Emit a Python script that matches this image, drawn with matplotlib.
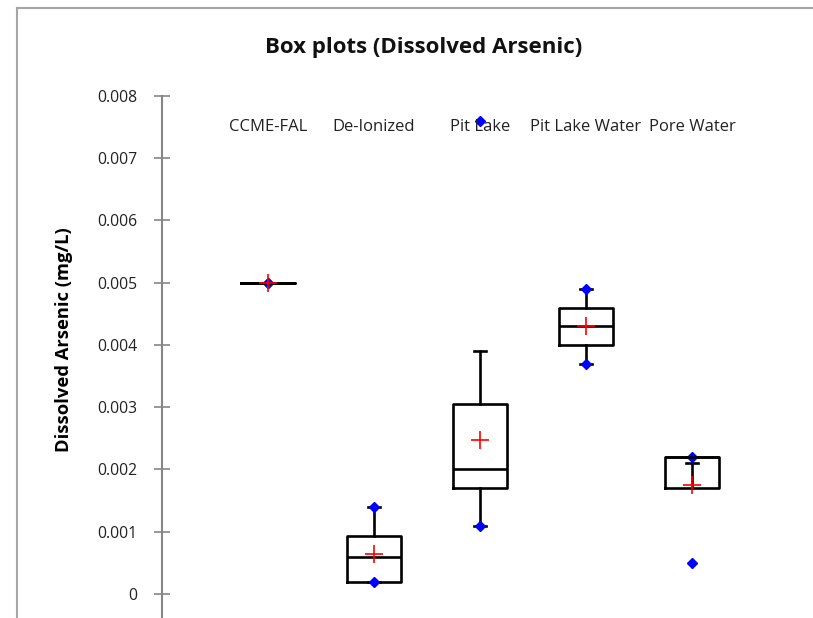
import matplotlib
matplotlib.use("Agg")
import matplotlib.pyplot as plt
from matplotlib.lines import Line2D

# values (mg/L)
groups = ["CCME-FAL", "De-Ionized", "Pit Lake", "Pit Lake Water", "Pore Water"]
q1 = [0.0050, 0.0002, 0.00171, 0.0040, 0.0017]
median = [0.0050, 0.0006, 0.0020, 0.0043, 0.0022]
q3 = [0.0050, 0.00093, 0.00305, 0.0046, 0.0022]
mean = [0.0050, 0.00064, 0.00248, 0.0043, 0.00175]
whisker_lo = [0.0050, 0.0002, 0.0011, 0.0037, 0.0021]
whisker_hi = [0.0050, 0.0014, 0.0039, 0.0049, 0.0022]
minimum = [0.0050, 0.0002, 0.0011, 0.0037, 0.0005]
maximum = [0.0050, 0.0014, 0.0076, 0.0049, 0.0022]
yticks = [0, 0.001, 0.002, 0.003, 0.004, 0.005, 0.006, 0.007, 0.008]

plt.rcParams['font.family'] = ['Open Sans', 'DejaVu Sans']

W, H = 813, 618
fig = plt.figure(figsize=(W / 100, H / 100), dpi=100)

# chart frame (excel style), only top and left edge visible
fig.add_artist(Line2D([17 / W, 17 / W], [-0.1, 1 - 8 / H], color="#a6a6a6", lw=1.5))
fig.add_artist(Line2D([17 / W, 1.1], [1 - 8 / H, 1 - 8 / H], color="#a6a6a6", lw=1.5))

ax = fig.add_axes([162 / W, 0, (798 - 162) / W, 1 - 96 / H])

stats = []
for i, g in enumerate(groups):
    stats.append(dict(label=g, q1=q1[i], med=median[i], q3=q3[i], mean=mean[i],
                      whislo=whisker_lo[i], whishi=whisker_hi[i],
                      fliers=[minimum[i], maximum[i]]))

positions = list(range(1, len(groups) + 1))
black = dict(color="black", linewidth=1.9)
ax.bxp(stats, positions=positions, widths=0.51, showmeans=True, showfliers=True,
       boxprops=black, medianprops=black, whiskerprops=black,
       capprops=black, capwidths=0.12,
       flierprops=dict(marker="D", markerfacecolor="blue", markeredgecolor="blue",
                       markersize=5.5, linestyle="none"),
       meanprops=dict(marker="+", markeredgecolor="red", markersize=13,
                      markeredgewidth=1.2))

ax.set_xlim(0, 6)
ax.set_ylim(-0.000386, 0.008)
ax.set_yticks(yticks)
ax.set_yticklabels(["0" if v == 0 else f"{v:.3f}" for v in yticks])
ax.set_xticks([])

for s in ["top", "right", "bottom"]:
    ax.spines[s].set_visible(False)
ax.spines["left"].set_color("#868686")
ax.spines["left"].set_linewidth(1.5)
ax.spines["left"].set_bounds(-0.001, 0.008)
ax.tick_params(axis="y", direction="inout", length=11, width=1.2, color="#868686",
               labelsize=11.3, pad=12, labelcolor="#222222")

# category names across the top of the plot
for p, g in zip(positions, groups):
    ax.text(p, 0.0075, g, ha="center", va="center", fontsize=12, color="#222222")

ax.set_ylabel("Dissolved Arsenic (mg/L)", fontsize=13.2, fontweight="bold")
ax.yaxis.set_label_coords(-0.14, 0.533)

fig.text(424 / W, 1 - 48 / H, "Box plots (Dissolved Arsenic)", ha="center", va="center",
         fontsize=16, fontweight="bold", color="#111111")

fig.savefig("out.png", dpi=100)
